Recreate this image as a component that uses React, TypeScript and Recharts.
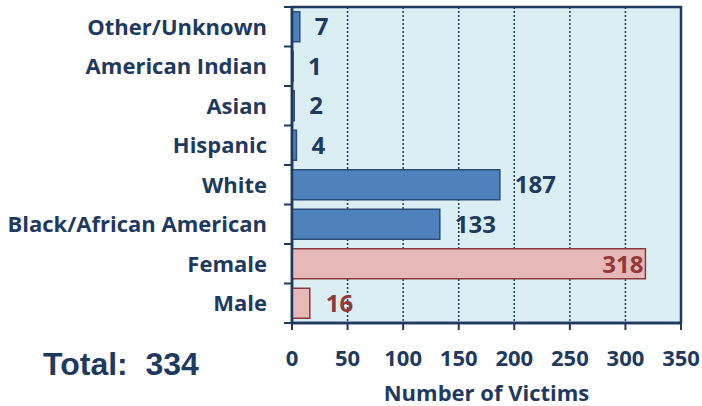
import React from 'react';
import { BarChart, Bar, XAxis, YAxis, CartesianGrid, LabelList, Label, ReferenceArea } from 'recharts';

const categories = ['Other/Unknown', 'American Indian', 'Asian', 'Hispanic', 'White', 'Black/African American', 'Female', 'Male'];
const raceValues = [7, 1, 2, 4, 187, 133, null, null];
const sexValues = [null, null, null, null, null, null, 318, 16];
const xTicks = [0, 50, 100, 150, 200, 250, 300, 350];
const totalLabel = 'Total:  334';

const data = categories.map((name, i) => ({ name, race: raceValues[i], sex: sexValues[i] }));

const NAVY = '#1F3A5F';
const RED = '#953735';
const FONT = '"Open Sans", Lato, sans-serif';

const W = 702;
const H = 406;
const TOP = 7;
const BOTTOM = 323;
const AXIS_X = 292;
const BAND = (BOTTOM - TOP) / categories.length;

function CategoryTick(props: any) {
  const { x, y, payload, index } = props;
  return (
    <g>
      <text x={x} y={y} dy={8} textAnchor="end" fill={NAVY} fontFamily={FONT} fontWeight={700} fontSize={22}>
        {payload.value}
      </text>
      <line x1={AXIS_X - 8} x2={AXIS_X} y1={y - BAND / 2} y2={y - BAND / 2} stroke={NAVY} strokeWidth={2} />
      {index === categories.length - 1 && (
        <line x1={AXIS_X - 8} x2={AXIS_X} y1={y + BAND / 2} y2={y + BAND / 2} stroke={NAVY} strokeWidth={2} />
      )}
    </g>
  );
}

function SexLabel(props: any) {
  const { x, y, width, height, value } = props;
  if (value == null) return null;
  const inside = value > 300;
  return (
    <text
      x={inside ? x + width - 2 : x + width + 16}
      y={y + height / 2}
      dy={9}
      textAnchor={inside ? 'end' : 'start'}
      fill={RED}
      fontFamily={FONT}
      fontWeight={700}
      fontSize={24}
    >
      {value}
    </text>
  );
}

export default function App() {
  return (
    <div style={{ position: 'absolute', left: 0, top: 0, width: W, height: H, background: '#fff' }}>
      <BarChart
        width={W}
        height={H}
        data={data}
        layout="vertical"
        margin={{ top: TOP, right: W - 681, left: 0, bottom: 0 }}
        barCategoryGap="12%"
      >
        <CartesianGrid horizontal={false} fill="#DBEEF4" stroke={NAVY} strokeDasharray="2 2" strokeWidth={1.5} />
        <ReferenceArea x1={0} x2={350} fill="none" fillOpacity={0} stroke={NAVY} strokeWidth={2.5} />
        <XAxis
          type="number"
          domain={[0, 350]}
          ticks={xTicks}
          height={H - BOTTOM}
          tickSize={7}
          tickMargin={20}
          axisLine={{ stroke: NAVY, strokeWidth: 2.5 }}
          tickLine={{ stroke: NAVY, strokeWidth: 2 }}
          tick={{ fill: NAVY, fontFamily: FONT, fontWeight: 700, fontSize: 22 }}
        >
          <Label
            value="Number of Victims"
            position="insideBottom"
            offset={5}
            style={{ fill: NAVY, fontFamily: FONT, fontWeight: 700, fontSize: 22 }}
          />
        </XAxis>
        <YAxis
          type="category"
          dataKey="name"
          width={AXIS_X}
          tickSize={8}
          tickMargin={17}
          tickLine={false}
          axisLine={{ stroke: NAVY, strokeWidth: 2.5 }}
          tick={<CategoryTick />}
          interval={0}
        />
        <Bar dataKey="race" stackId="a" fill="#4F81BD" stroke="#2C4D75" strokeWidth={1.5} isAnimationActive={false}>
          <LabelList
            dataKey="race"
            position="right"
            offset={15}
            style={{ fill: NAVY, fontFamily: FONT, fontWeight: 700, fontSize: 24 }}
          />
        </Bar>
        <Bar dataKey="sex" stackId="a" fill="#E6B9B8" stroke="#8B3A3A" strokeWidth={1.5} isAnimationActive={false}>
          <LabelList dataKey="sex" content={<SexLabel />} />
        </Bar>
      </BarChart>
      <svg width={W} height={H} style={{ position: 'absolute', left: 0, top: 0, pointerEvents: 'none' }}>
        <text
          x={43}
          y={375}
          fill={NAVY}
          fontFamily='"Liberation Sans", Arial, sans-serif'
          fontWeight={700}
          fontSize={32}
          style={{ whiteSpace: 'pre' }}
        >
          {totalLabel}
        </text>
      </svg>
    </div>
  );
}
